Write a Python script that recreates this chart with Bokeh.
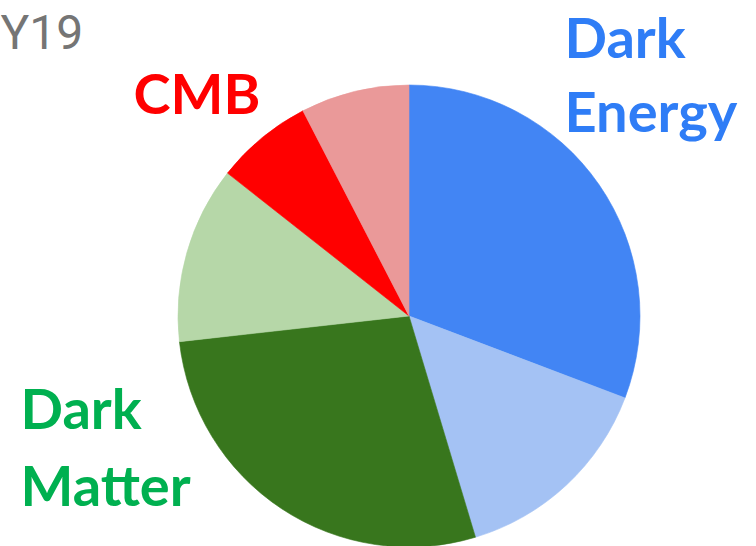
import math
from bokeh.plotting import figure
from bokeh.models import Range1d, ColumnDataSource
from bokeh.core.properties import value
from bokeh.embed import file_html
from bokeh.resources import INLINE

# ---- data ----
categories = ["Dark Energy A", "Dark Energy B", "Dark Matter A", "Dark Matter B", "CMB A", "CMB B"]
shares = [30.8, 14.6, 27.9, 12.4, 6.8, 7.6]
colors = ["#4285f4", "#a4c2f4", "#38761d", "#b6d7a8", "#ff0000", "#ea9999"]

label_lines = ["Dark", "Energy", "CMB", "Dark", "Matter"]
label_colors = ["#2f7df6", "#2f7df6", "#ff0000", "#00b050", "#00b050"]
title_text = "Y19"

W, H = 756, 546
cx, cy, r = 408.5, H - 315.5, 231

total = sum(shares)
starts, ends = [], []
acc = 0.0
for s in shares:
    a1 = acc / total * 2 * math.pi
    acc += s
    a2 = acc / total * 2 * math.pi
    starts.append(math.pi / 2 - a2)
    ends.append(math.pi / 2 - a1)

src = ColumnDataSource(dict(cat=categories, start=starts, end=ends, color=colors,
                            x=[cx] * len(shares), y=[cy] * len(shares)))

p = figure(width=W, height=H, output_backend="svg", toolbar_location=None,
           x_range=Range1d(0, W), y_range=Range1d(0, H), min_border=0)
p.axis.visible = False
p.grid.visible = False
p.outline_line_color = None
p.background_fill_color = "white"

p.wedge(x="x", y="y", radius=r, start_angle="start", end_angle="end",
        direction="anticlock", fill_color="color", line_color="color",
        line_width=0.6, source=src)

# labels (pixel positions from top, shifted for the renderer's baseline offset)
off = 21
lx = [564, 564, 133, 20, 20]
ly_px = [57, 131, 113, 428, 505]
ly = [H - (v - off) for v in ly_px]
p.text(x=lx, y=ly, text=label_lines, text_color=label_colors,
       text_font=value("Lato"), text_font_style="bold", text_font_size="56px",
       text_align="left", text_baseline="alphabetic")

p.text(x=[0], y=[H - (53 - off)], text=[title_text], text_color="#757575",
       text_font=value("Roboto"), text_font_size="48px",
       text_align="left", text_baseline="alphabetic")

open("out.html", "w").write(file_html(p, INLINE))
